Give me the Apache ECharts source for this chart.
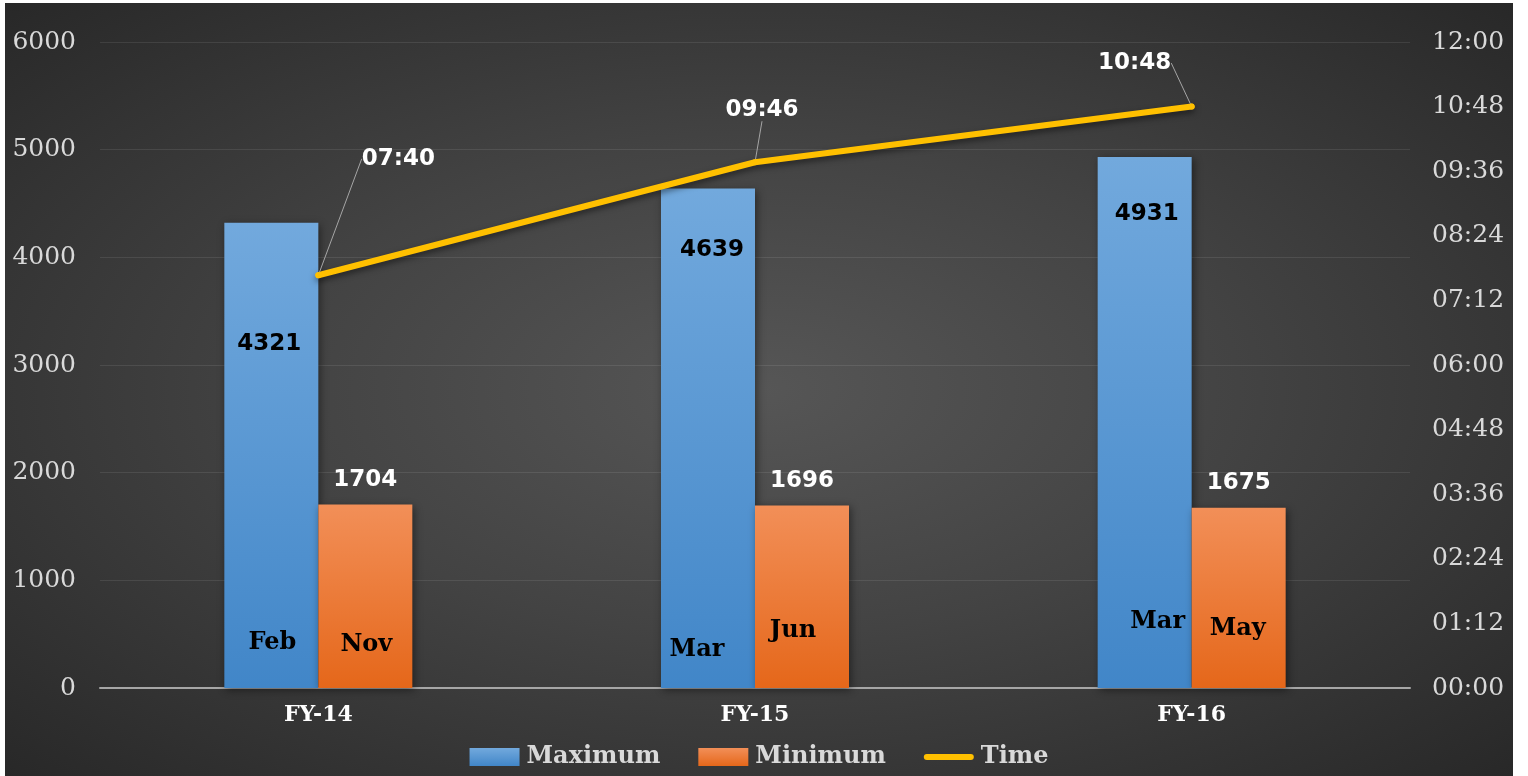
<!DOCTYPE html>
<html>
<head>
<meta charset="utf-8">
<script src="https://cdn.jsdelivr.net/npm/echarts@6/dist/echarts.min.js"></script>
<style>
  html, body { margin: 0; padding: 0; background: #fff; }
  #chart {
    position: absolute; left: 5px; top: 3px; width: 1508px; height: 773px;
    background: radial-gradient(ellipse at 50% 50%, #565656 0%, #434343 45%, #282828 100%);
  }
</style>
</head>
<body>
<div id="chart"></div>
<script>
// 数据
var categories = ['FY-14', 'FY-15', 'FY-16'];
var maxValues = [4321, 4639, 4931];
var minValues = [1704, 1696, 1675];
var maxMonths = ['Feb', 'Mar', 'Mar'];
var minMonths = ['Nov', 'Jun', 'May'];
var timeMinutes = [460, 586, 648]; // 07:40, 09:46, 10:48

function fmtTime(m) {
	var h = Math.floor(m / 60), mm = Math.round(m % 60);
	return (h < 10 ? '0' : '') + h + ':' + (mm < 10 ? '0' : '') + mm;
}

var serif = '"DejaVu Serif", serif';
var sansBold = '"DejaVu Sans", sans-serif';

// label tweaks (px)
var maxValOffsets = [[-2, 110], [4, 50], [2, 45]];
var maxMonthOffsets = [[1, -45], [-11, -38], [13, -66]];
var minMonthOffsets = [[1, -43], [-9, -57], [-1, -59]];
var timeLabelMoves = [[80, -97], [7, -33], [-57, -24]];

function monthMarks(months, offsets) {
	return months.map(function (m, i) {
		return {
			coord: [categories[i], 0],
			value: m,
			label: { offset: offsets[i] }
		};
	});
}

var myChart = echarts.init(document.getElementById('chart'));

var option = {
	backgroundColor: 'transparent',
	grid: { left: 95, right: 103, top: 39, bottom: 88 },
	legend: {
		bottom: 2,
		left: 'center',
		itemWidth: 50,
		itemHeight: 18,
		itemGap: 38,
		textStyle: { color: '#d9d9d9', fontFamily: serif, fontWeight: 'bold', fontSize: 24, padding: [0, 0, 0, 2] },
		itemStyle: { borderWidth: 0 },
		data: [
			{ name: 'Maximum', icon: 'rect' },
			{ name: 'Minimum', icon: 'rect' },
			{ name: 'Time', icon: 'path://M3,0 L47,0 A3,3 0 0 1 47,6 L3,6 A3,3 0 0 1 3,0 Z' }
		]
	},
	xAxis: {
		type: 'category',
		data: categories,
		axisTick: { show: false },
		axisLine: { lineStyle: { color: '#a6a6a6', width: 2 } },
		axisLabel: { color: '#ffffff', fontFamily: serif, fontWeight: 'bold', fontSize: 22, margin: 16 }
	},
	yAxis: [{
		type: 'value',
		min: 0, max: 6000, interval: 1000,
		axisLabel: { color: '#d9d9d9', fontFamily: serif, fontSize: 25, margin: 24, formatter: function (v) { return String(v); } },
		splitLine: { lineStyle: { color: 'rgba(255,255,255,0.09)', width: 1 } }
	}, {
		type: 'value',
		min: 0, max: 720, interval: 72,
		axisLabel: { color: '#d9d9d9', fontFamily: serif, fontSize: 25, margin: 22, formatter: fmtTime },
		splitLine: { show: false }
	}],
	series: [{
		name: 'Maximum',
		type: 'bar',
		barWidth: 94,
		barGap: 0,
		itemStyle: {
			color: new echarts.graphic.LinearGradient(0, 0, 0, 1, [
				{ offset: 0, color: '#72a9dd' }, { offset: 1, color: '#4186c8' }
			]),
			shadowColor: 'rgba(0,0,0,0.45)', shadowBlur: 8, shadowOffsetX: 2, shadowOffsetY: 2
		},
		label: {
			show: true, position: 'insideTop', distance: 0,
			color: '#000', fontFamily: sansBold, fontWeight: 'bold', fontSize: 23
		},
		data: maxValues.map(function (v, i) {
			return { value: v, label: { offset: maxValOffsets[i] } };
		}),
		markPoint: {
			symbol: 'circle', symbolSize: 0,
			label: { show: true, position: 'inside', color: '#000', fontFamily: serif, fontWeight: 'bold', fontSize: 24, formatter: '{c}' },
			data: monthMarks(maxMonths, maxMonthOffsets)
		}
	}, {
		name: 'Minimum',
		type: 'bar',
		barWidth: 94,
		itemStyle: {
			color: new echarts.graphic.LinearGradient(0, 0, 0, 1, [
				{ offset: 0, color: '#f28f58' }, { offset: 1, color: '#e5671a' }
			]),
			shadowColor: 'rgba(0,0,0,0.45)', shadowBlur: 8, shadowOffsetX: 2, shadowOffsetY: 2
		},
		label: {
			show: true, position: 'top', distance: 13,
			color: '#fff', fontFamily: sansBold, fontWeight: 'bold', fontSize: 23
		},
		data: minValues,
		markPoint: {
			symbol: 'circle', symbolSize: 0,
			label: { show: true, position: 'inside', color: '#000', fontFamily: serif, fontWeight: 'bold', fontSize: 24, formatter: '{c}' },
			data: monthMarks(minMonths, minMonthOffsets)
		}
	}, {
		name: 'Time',
		type: 'line',
		yAxisIndex: 1,
		symbol: 'circle',
		symbolSize: 6,
		symbolKeepAspect: true,
		itemStyle: { color: '#ffc000' },
		lineStyle: {
			color: '#ffc000', width: 6, cap: 'round',
			shadowColor: 'rgba(0,0,0,0.5)', shadowBlur: 6, shadowOffsetY: 3
		},
		label: {
			show: true, position: 'top',
			color: '#fff', fontFamily: sansBold, fontWeight: 'bold', fontSize: 23,
			formatter: function (p) { return fmtTime(p.value); }
		},
		labelLine: { show: true, lineStyle: { color: '#a6a6a6', width: 1 } },
		labelLayout: function (p) {
			var mv = timeLabelMoves[p.dataIndex];
			return { dx: mv[0], dy: mv[1] };
		},
		z: 5,
		data: timeMinutes
	}]
};

myChart.setOption(option);
</script>
</body>
</html>
